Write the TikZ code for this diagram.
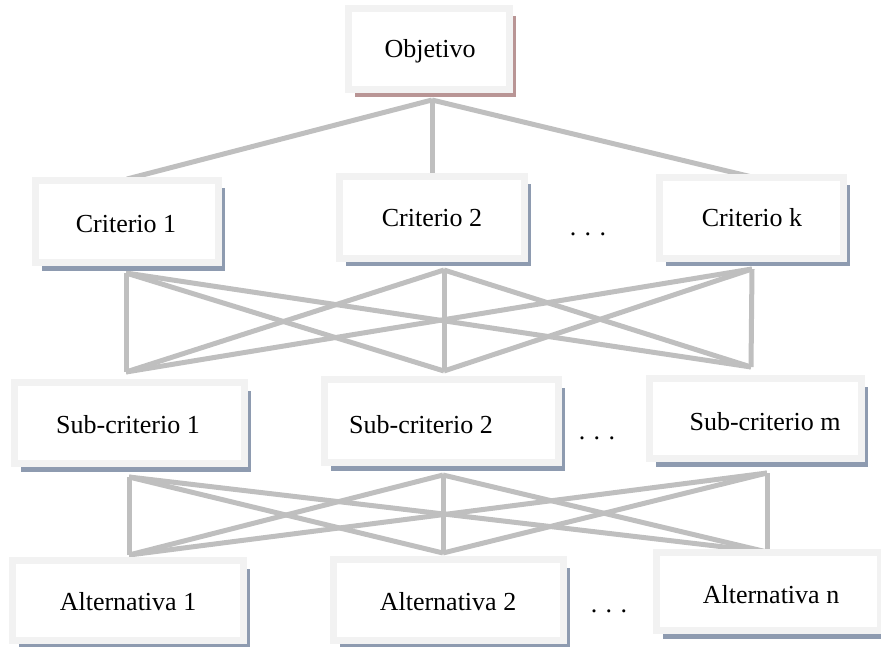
\documentclass[tikz,border=0pt]{standalone}
\usepackage{fontspec}
\setmainfont{Liberation Serif}
\usetikzlibrary{shadows}
\definecolor{boxline}{HTML}{F2F2F2}
\definecolor{shblue}{HTML}{8E9BB0}
\definecolor{shpink}{HTML}{B99595}
\definecolor{linkgrey}{HTML}{BFBFBF}
\begin{document}
\begin{tikzpicture}[x=1pt,y=-1pt,
  box/.style={draw=boxline, line width=7pt, fill=white, inner sep=0pt,
    general shadow={fill=#1, shadow xshift=6.5pt, shadow yshift=-8pt}},
  lbl/.style={anchor=base, inner sep=0pt, font=\fontsize{26}{30}\selectfont},
  link/.style={draw=linkgrey, line width=5pt}]
\useasboundingbox (0,0) rectangle (881,647);

% connector end points
\coordinate (o) at (432,100);
\coordinate (k1) at (127,179);
\coordinate (k2) at (432,176);
\coordinate (k3) at (752,177);
\coordinate (t1) at (126,273);
\coordinate (t2) at (444,270);
\coordinate (t3) at (752,269);
\coordinate (b1) at (126,372);
\coordinate (b2) at (444,371);
\coordinate (b3) at (751,367);
\coordinate (u1) at (129,477);
\coordinate (u2) at (443,475);
\coordinate (u3) at (767,473);
\coordinate (v1) at (129,555);
\coordinate (v2) at (443,553);
\coordinate (v3) at (767,552);

% connectors
\foreach \k in {k1,k2,k3} \draw[link] (o) -- (\k);
\foreach \t in {t1,t2,t3} \foreach \b in {b1,b2,b3} \draw[link] (\t) -- (\b);
\foreach \u in {u1,u2,u3} \foreach \v in {v1,v2,v3} \draw[link] (\u) -- (\v);

% boxes
\node[box=shpink, minimum width=161pt, minimum height=81pt] (obj) at (429,49) {};
\node[box=shblue, minimum width=183pt, minimum height=82pt] (c1) at (127,221.5) {};
\node[box=shblue, minimum width=185pt, minimum height=82pt] (c2) at (432,217.5) {};
\node[box=shblue, minimum width=184pt, minimum height=81pt] (ck) at (751.5,218) {};
\node[box=shblue, minimum width=230pt, minimum height=81pt] (s1) at (129.5,423) {};
\node[box=shblue, minimum width=234pt, minimum height=83pt] (s2) at (441.5,421) {};
\node[box=shblue, minimum width=212pt, minimum height=80pt] (sm) at (755.5,418.5) {};
\node[box=shblue, minimum width=231pt, minimum height=80pt] (a1) at (128,600.5) {};
\node[box=shblue, minimum width=230pt, minimum height=81pt] (a2) at (448.5,600) {};
\node[box=shblue, minimum width=224pt, minimum height=78pt] (an) at (768.5,591.5) {};

% labels
\node[lbl] (tobj) at (430,58) {Objetivo};
\node[lbl] (tc1) at (126,233) {Criterio 1};
\node[lbl] (tc2) at (432,227) {Criterio 2};
\node[lbl] (tck) at (752,227) {Criterio k};
\node[lbl] (ts1) at (128,433) {Sub-criterio 1};
\node[lbl] (ts2) at (421,433) {Sub-criterio 2};
\node[lbl] (tsm) at (765,430) {Sub-criterio m};
\node[lbl] (ta1) at (128,610) {Alternativa 1};
\node[lbl] (ta2) at (448,610) {Alternativa 2};
\node[lbl] (tan) at (771,603) {Alternativa n};

% dots
\node[lbl] (d1) at (588,236) {.\hspace{8.5pt}.\hspace{8.5pt}.};
\node[lbl] (d2) at (597,439) {.\hspace{8.5pt}.\hspace{8.5pt}.};
\node[lbl] (d3) at (609,612) {.\hspace{8.5pt}.\hspace{8.5pt}.};
\end{tikzpicture}
\end{document}
